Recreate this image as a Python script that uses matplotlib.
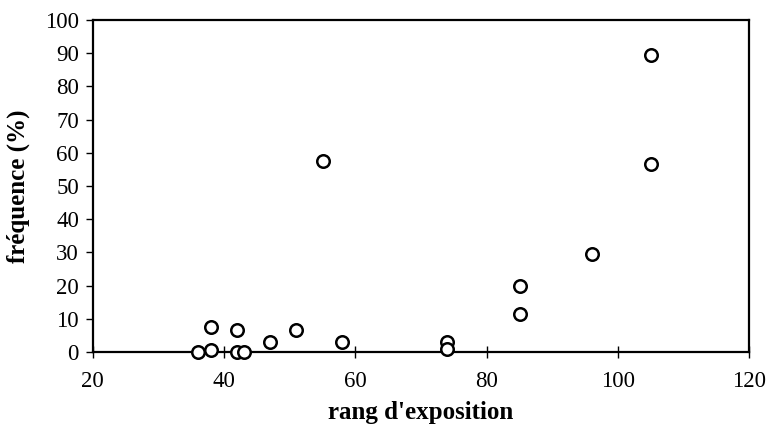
import matplotlib
matplotlib.use("Agg")
import matplotlib.pyplot as plt

# values
rang = [36, 38, 38, 42, 42, 43, 47, 51, 55, 58, 74, 74, 85, 85, 96, 105, 105]
frequence = [0, 0.5, 7.5, 6.5, 0, 0, 3, 6.5, 57.5, 3, 3, 1, 11.5, 20, 29.5, 56.5, 89.5]

x_ticks = [20, 40, 60, 80, 100, 120]
y_ticks = list(range(0, 101, 10))

plt.rcParams['font.family'] = ['Liberation Serif', 'DejaVu Serif']

fig = plt.figure(figsize=(7.67, 4.33), dpi=100)
ax = fig.add_axes([0.121, 0.187, 0.856, 0.767])

ax.plot(rang, frequence, linestyle='none', marker='o', markersize=9,
        markerfacecolor='white', markeredgecolor='black', markeredgewidth=1.8,
        clip_on=False, zorder=3)

ax.set_xlim(20, 120)
ax.set_ylim(0, 100)
ax.set_xticks(x_ticks)
ax.set_yticks(y_ticks)

for s in ax.spines.values():
  s.set_linewidth(1.6)
  s.set_color('black')

ax.tick_params(axis='x', direction='inout', length=8, width=1, labelsize=16.5, pad=10)
ax.tick_params(axis='y', direction='out', length=5, width=1, labelsize=16.5, pad=5)

ax.set_xlabel("rang d'exposition", fontsize=18, fontweight='bold', labelpad=6)
ax.set_ylabel("fréquence (%)", fontsize=18, fontweight='bold', labelpad=11)

fig.savefig("out.png", dpi=100)
